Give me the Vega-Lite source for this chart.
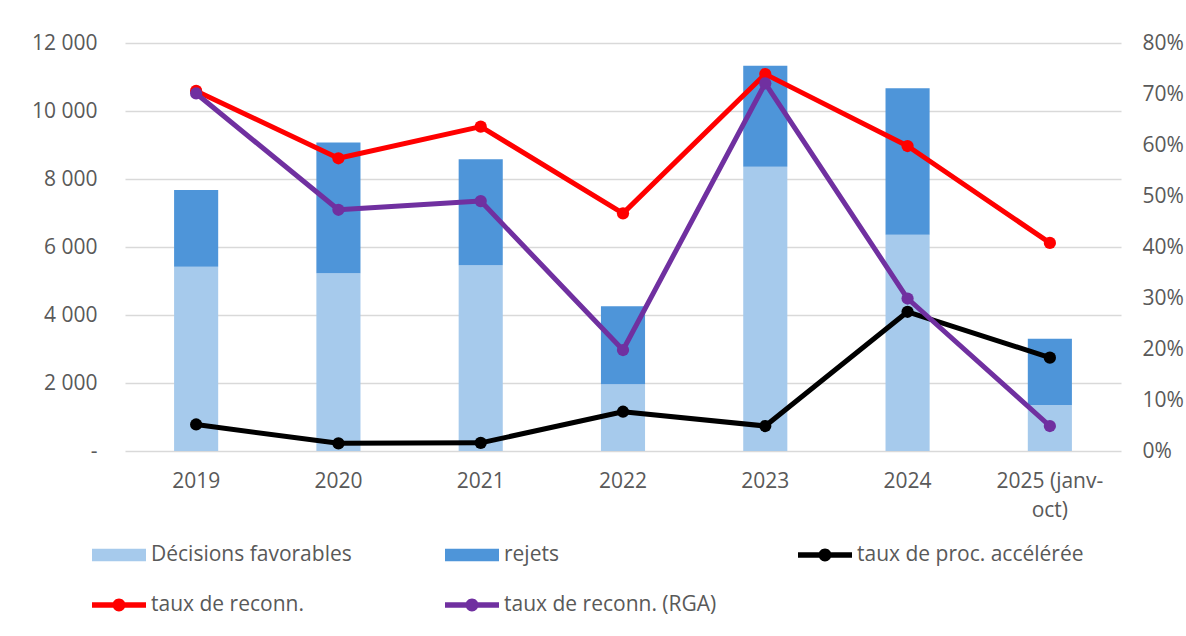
{
  "$schema": "https://vega.github.io/schema/vega-lite/v6.json",
  "autosize": {"type": "none"},
  "width": 996,
  "height": 408,
  "padding": {"left": 125, "top": 43, "right": 65, "bottom": 185},
  "background": "#ffffff",
  "config": {
    "font": "Open Sans",
    "view": {"stroke": null},
    "axis": {
      "labelFont": "Open Sans",
      "labelFontSize": 21,
      "labelColor": "#595959",
      "domain": false,
      "ticks": false,
      "title": null
    }
  },
  "datasets": {
    "decisions": [
      {"annee": "2019", "serie": "Décisions favorables", "nombre": 5420},
      {"annee": "2019", "serie": "rejets", "nombre": 2260},
      {"annee": "2020", "serie": "Décisions favorables", "nombre": 5230},
      {"annee": "2020", "serie": "rejets", "nombre": 3840},
      {"annee": "2021", "serie": "Décisions favorables", "nombre": 5460},
      {"annee": "2021", "serie": "rejets", "nombre": 3120},
      {"annee": "2022", "serie": "Décisions favorables", "nombre": 1960},
      {"annee": "2022", "serie": "rejets", "nombre": 2300},
      {"annee": "2023", "serie": "Décisions favorables", "nombre": 8360},
      {"annee": "2023", "serie": "rejets", "nombre": 2970},
      {"annee": "2024", "serie": "Décisions favorables", "nombre": 6360},
      {"annee": "2024", "serie": "rejets", "nombre": 4310},
      {"annee": "2025 (janv-oct)", "serie": "Décisions favorables", "nombre": 1350},
      {"annee": "2025 (janv-oct)", "serie": "rejets", "nombre": 1950}
    ],
    "taux": [
      {"annee": "2019", "serie": "taux de proc. accélérée", "taux": 0.052},
      {"annee": "2020", "serie": "taux de proc. accélérée", "taux": 0.015},
      {"annee": "2021", "serie": "taux de proc. accélérée", "taux": 0.016},
      {"annee": "2022", "serie": "taux de proc. accélérée", "taux": 0.077},
      {"annee": "2023", "serie": "taux de proc. accélérée", "taux": 0.049},
      {"annee": "2024", "serie": "taux de proc. accélérée", "taux": 0.273},
      {"annee": "2025 (janv-oct)", "serie": "taux de proc. accélérée", "taux": 0.183},
      {"annee": "2019", "serie": "taux de reconn.", "taux": 0.706},
      {"annee": "2020", "serie": "taux de reconn.", "taux": 0.574},
      {"annee": "2021", "serie": "taux de reconn.", "taux": 0.636},
      {"annee": "2022", "serie": "taux de reconn.", "taux": 0.466},
      {"annee": "2023", "serie": "taux de reconn.", "taux": 0.739},
      {"annee": "2024", "serie": "taux de reconn.", "taux": 0.598},
      {"annee": "2025 (janv-oct)", "serie": "taux de reconn.", "taux": 0.408},
      {"annee": "2019", "serie": "taux de reconn. (RGA)", "taux": 0.701},
      {"annee": "2020", "serie": "taux de reconn. (RGA)", "taux": 0.473},
      {"annee": "2021", "serie": "taux de reconn. (RGA)", "taux": 0.490},
      {"annee": "2022", "serie": "taux de reconn. (RGA)", "taux": 0.198},
      {"annee": "2023", "serie": "taux de reconn. (RGA)", "taux": 0.721},
      {"annee": "2024", "serie": "taux de reconn. (RGA)", "taux": 0.299},
      {"annee": "2025 (janv-oct)", "serie": "taux de reconn. (RGA)", "taux": 0.049}
    ]
  },
  "encoding": {
    "x": {
      "field": "annee",
      "type": "nominal",
      "sort": null,
      "scale": {"paddingInner": 0.69, "paddingOuter": 0.345},
      "axis": {
        "labelAngle": 0,
        "labelPadding": 19,
        "labelLineHeight": 29,
        "labelExpr": "datum.value == '2025 (janv-oct)' ? ['2025 (janv-', 'oct)'] : datum.label"
      }
    },
    "color": {
      "field": "serie",
      "type": "nominal",
      "scale": {
        "domain": ["Décisions favorables", "rejets", "taux de proc. accélérée", "taux de reconn.", "taux de reconn. (RGA)"],
        "range": ["#a6caec", "#4e95d9", "#000000", "#ff0000", "#7030a0"]
      },
      "legend": {
        "title": null,
        "orient": "none",
        "legendX": -33,
        "legendY": 485,
        "direction": "horizontal",
        "columns": 3,
        "gridAlign": "all",
        "columnPadding": 67,
        "rowPadding": 13,
        "symbolSize": 2916,
        "symbolType": "square",
        "labelFont": "Open Sans",
        "labelFontSize": 21,
        "labelColor": "#595959",
        "labelOffset": 5,
        "labelLimit": 400,
        "encode": {
          "symbols": {
            "update": {
              "shape": {"signal": "indexof(['Décisions favorables', 'rejets'], datum.value) >= 0 ? 'M-1,-0.235H1V0.235H-1Z' : 'M-1,-0.1H1V0.1H-1Z M0.24,0A0.24,0.24 0 1 1 -0.24,0A0.24,0.24 0 1 1 0.24,0Z'"},
              "fill": {"scale": "color", "field": "value"},
              "stroke": {"value": "transparent"},
              "strokeWidth": {"value": 0},
              "opacity": {"value": 1},
              "fillOpacity": {"value": 1}
            }
          }
        }
      }
    }
  },
  "layer": [
    {
      "data": {"name": "decisions"},
      "mark": {"type": "bar"},
      "encoding": {
        "y": {
          "field": "nombre",
          "type": "quantitative",
          "stack": "zero",
          "scale": {"domain": [0, 12000]},
          "axis": {
            "orient": "left",
            "values": [0, 2000, 4000, 6000, 8000, 10000, 12000],
            "grid": true,
            "gridColor": "#d9d9d9",
            "gridWidth": 1.5,
            "labelPadding": 28,
            "labelExpr": "datum.value == 0 ? '-' : replace(format(datum.value, ','), /,/g, ' ')",
            "encode": {
              "labels": {"update": {"dx": {"signal": "datum.value == 0 ? -10 : 0"}}}
            }
          }
        },
        "order": {"field": "serie", "sort": "ascending"}
      }
    },
    {
      "data": {"name": "taux"},
      "encoding": {
        "y": {
          "field": "taux",
          "type": "quantitative",
          "scale": {"domain": [0, 0.8]},
          "axis": {
            "orient": "right",
            "values": [0, 0.1, 0.2, 0.3, 0.4, 0.5, 0.6, 0.7, 0.8],
            "format": ".0%",
            "grid": false,
            "labelPadding": 21
          }
        }
      },
      "layer": [
        {"mark": {"type": "line", "strokeWidth": 5, "strokeJoin": "round", "strokeCap": "round"}},
        {"mark": {"type": "point", "filled": true, "size": 150, "opacity": 1}}
      ]
    }
  ],
  "resolve": {"scale": {"y": "independent"}}
}
